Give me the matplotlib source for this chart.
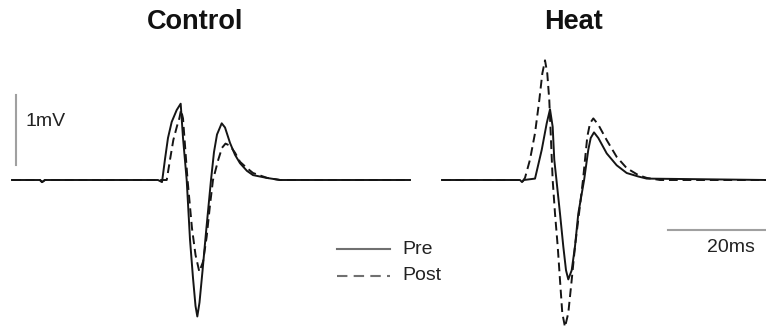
import matplotlib
matplotlib.use("Agg")
import matplotlib.pyplot as plt
from matplotlib.lines import Line2D

plt.rcParams['font.family'] = ['Liberation Sans', 'DejaVu Sans']

# ---- data (time in ms, voltage in mV) ----
ctrl_pre_t = [0, 5.77, 6.19, 6.8, 30.1, 30.93, 31.55, 32.16, 32.93, 33.96, 34.78, 35.26, 36.02, 36.70, 37.32, 37.84, 38.21,
              38.66, 39.28, 40.0, 41.03, 41.65, 42.27, 43.24, 43.92, 44.95, 45.98, 47.01, 48.45, 49.69, 52.52, 55.26, 82.06]
ctrl_pre_v = [0, 0, -0.03, 0, 0, -0.03, 0.30, 0.60, 0.83, 1.00, 1.09, 0.60, 0.0, -0.85, -1.40, -1.80, -1.95,
              -1.75, -1.30, -0.75, 0.0, 0.40, 0.65, 0.81, 0.75, 0.53, 0.36, 0.24, 0.13, 0.07, 0.03, 0.0, 0.0]

ctrl_post_t = [0, 5.77, 6.19, 6.8, 31.9, 32.58, 33.26, 34.02, 34.50, 34.85, 35.26, 36.2, 37.11, 37.84, 38.62, 39.38, 40.14,
               40.82, 41.44, 42.53, 43.3, 44.02, 44.95, 45.98, 47.01, 48.45, 49.69, 52.6, 55.3, 82.06]
ctrl_post_v = [0, 0, -0.03, 0, 0, 0.29, 0.57, 0.77, 0.88, 1.00, 0.88, 0.0, -0.69, -1.07, -1.31, -1.17, -0.81,
               -0.36, 0.0, 0.29, 0.46, 0.52, 0.49, 0.39, 0.26, 0.17, 0.10, 0.03, 0.0, 0.0]

heat_pre_t = [0, 16.08, 16.5, 16.9, 19.18, 20.56, 21.59, 22.27, 22.82, 23.15, 23.6, 24.33, 25.01, 25.57, 26.04, 26.74,
              27.42, 28.10, 29.3, 30.16, 30.66, 31.34, 32.23, 33.96, 36.02, 38.08, 40.47, 42.21, 66.8]
heat_pre_v = [0, 0, -0.03, 0, 0.02, 0.43, 0.81, 1.01, 0.76, 0.29, 0.0, -0.48, -0.95, -1.29, -1.42, -1.29,
              -0.95, -0.48, 0.0, 0.43, 0.60, 0.68, 0.60, 0.38, 0.21, 0.10, 0.05, 0.02, 0.0]

heat_post_t = [0, 16.08, 16.5, 17.11, 18.14, 19.18, 20.06, 20.68, 21.24, 21.71, 22.12, 22.41, 22.82, 23.30, 23.86, 24.33,
               24.80, 25.36, 26.04, 26.74, 27.42, 28.25, 29.07, 29.96, 30.52, 31.20, 32.23, 33.96, 36.02, 38.08, 40.47,
               42.21, 44.95, 66.8]
heat_post_v = [0, 0, -0.03, 0.03, 0.29, 0.67, 1.14, 1.52, 1.71, 1.52, 1.14, 0.67, 0.0, -0.48, -0.95, -1.43,
               -1.90, -2.10, -1.90, -1.43, -0.95, -0.48, 0.0, 0.62, 0.81, 0.88, 0.79, 0.57, 0.33, 0.17, 0.07,
               0.03, 0.0, 0.0]

titles = ["Control", "Heat"]
legend_labels = ["Pre", "Post"]
scale_mv = 1.0
scale_ms = 20.0

# ---- figure ----
W, H = 766, 333
fig = plt.figure(figsize=(W / 100, H / 100), dpi=100)
PX_PER_MS = 4.85
PX_PER_MV = 70.0
BASE_Y = 180.0
ylim = (-(H - BASE_Y) / PX_PER_MV, BASE_Y / PX_PER_MV)

def make_ax(x0_px):
    ax = fig.add_axes([0, 0, 1, 1])
    ax.set_xlim(-x0_px / PX_PER_MS, (W - x0_px) / PX_PER_MS)
    ax.set_ylim(*ylim)
    ax.axis('off')
    ax.patch.set_alpha(0)
    return ax

trace_col = '#151515'
dash = (0, (4.5, 2.5))
LW = 1.4

ax1 = make_ax(12)
ax1.plot(ctrl_pre_t, ctrl_pre_v, color=trace_col, lw=LW, solid_joinstyle='round')
ax1.plot(ctrl_post_t, ctrl_post_v, color=trace_col, lw=LW, linestyle=dash)
# vertical 1 mV scale bar
ax1.plot([0.82, 0.82], [0.214, 0.214 + scale_mv], color='#a0a0a0', lw=1.5)

ax2 = make_ax(442)
ax2.plot(heat_pre_t, heat_pre_v, color=trace_col, lw=LW, solid_joinstyle='round')
ax2.plot(heat_post_t, heat_post_v, color=trace_col, lw=LW, linestyle=dash)
# horizontal 20 ms scale bar
ax2.plot([46.6, 46.6 + scale_ms], [-0.714, -0.714], color='#a0a0a0', lw=1.5)

def fx(px):
    return px / W

def fy(py):
    return 1 - py / H

fig.text(fx(195), fy(22), titles[0], fontsize=19.5, fontweight='bold', ha='center', va='center', color='#111111')
fig.text(fx(574), fy(22), titles[1], fontsize=19.5, fontweight='bold', ha='center', va='center', color='#111111')
fig.text(fx(25), fy(121), "1mV", fontsize=14, ha='left', va='center', color='#222222')
fig.text(fx(731), fy(247), "20ms", fontsize=14, ha='center', va='center', color='#222222')

# legend
fig.add_artist(Line2D([fx(337), fx(390)], [fy(249), fy(249)], color='#707070', lw=1.5))
fig.add_artist(Line2D([fx(337), fx(390)], [fy(276), fy(276)], color='#707070', lw=1.5, linestyle=(0, (5, 3))))
fig.text(fx(402), fy(249), legend_labels[0], fontsize=14, ha='left', va='center', color='#222222')
fig.text(fx(402), fy(276), legend_labels[1], fontsize=14, ha='left', va='center', color='#222222')

fig.savefig("out.png", dpi=100)
